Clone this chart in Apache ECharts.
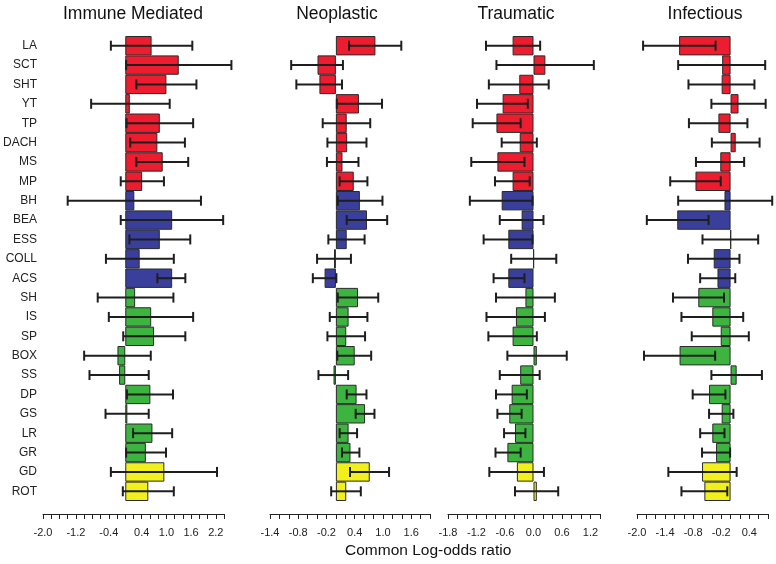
<!DOCTYPE html>
<html><head><meta charset="utf-8">
<script src="https://cdn.jsdelivr.net/npm/echarts@6/dist/echarts.min.js"></script>
<style>html,body{margin:0;padding:0;background:#fff}#c{width:776px;height:564px}</style>
</head><body><div id="c"></div>
<script>
const categories = ['LA','SCT','SHT','YT','TP','DACH','MS','MP','BH','BEA','ESS','COLL','ACS','SH','IS','SP','BOX','SS','DP','GS','LR','GR','GD','ROT'];
const groups = ['A','A','A','A','A','A','A','A','B','B','B','B','B','C','C','C','C','C','C','C','C','C','D','D'];
const panelTitles = ['Immune Mediated','Neoplastic','Traumatic','Infectious'];
const axisTitle = 'Common Log-odds ratio';

const immuneValue = [0.64,1.30,1.00,0.11,0.84,0.78,0.91,0.41,0.22,1.14,0.84,0.35,1.14,0.24,0.63,0.70,-0.19,-0.15,0.61,0.05,0.66,0.50,0.95,0.56];
const immuneLow   = [-0.35,0.02,0.27,-0.83,0.03,0.12,0.27,-0.11,-1.40,-0.11,0.10,-0.47,0.78,-0.67,-0.40,-0.05,-1.00,-0.87,0.04,-0.48,0.19,0.02,-0.35,-0.06];
const immuneHigh  = [1.63,2.58,1.73,1.08,1.65,1.45,1.53,0.94,1.84,2.38,1.58,1.18,1.46,1.17,1.65,1.46,0.62,0.57,1.16,0.57,1.14,0.99,2.23,1.18];

const neoValue = [0.84,-0.39,-0.35,0.49,0.23,0.24,0.14,0.38,0.51,0.66,0.23,-0.04,-0.24,0.47,0.27,0.22,0.40,-0.05,0.44,0.62,0.27,0.31,0.72,0.22];
const neoLow   = [0.28,-0.95,-0.84,0.02,-0.28,-0.18,-0.19,0.08,0.04,0.23,-0.16,-0.40,-0.49,0.04,-0.13,-0.18,0.03,-0.37,0.23,0.42,0.08,0.13,0.30,-0.10];
const neoHigh  = [1.39,0.15,0.13,0.98,0.73,0.65,0.48,0.67,0.99,1.09,0.61,0.32,0.01,0.90,0.67,0.62,0.75,0.26,0.65,0.82,0.45,0.50,1.13,0.53];

const traumaValue = [-0.44,0.25,-0.30,-0.65,-0.78,-0.29,-0.76,-0.44,-0.67,-0.25,-0.53,0.005,-0.53,-0.17,-0.37,-0.44,0.07,-0.28,-0.46,-0.51,-0.39,-0.55,-0.35,0.07];
const traumaLow   = [-1.00,-0.78,-0.94,-1.19,-1.28,-0.67,-1.31,-0.81,-1.34,-0.71,-1.05,-0.47,-0.84,-0.79,-0.99,-0.95,-0.55,-0.71,-0.79,-0.76,-0.62,-0.80,-0.93,-0.39];
const traumaHigh  = [0.14,1.27,0.32,-0.12,-0.27,0.07,-0.19,-0.08,-0.02,0.21,-0.02,0.48,-0.19,0.45,0.24,0.07,0.70,0.13,-0.14,-0.25,-0.17,-0.27,0.22,0.52];

const infValue = [-1.10,-0.18,-0.19,0.17,-0.26,0.11,-0.22,-0.75,-0.13,-1.14,0.005,-0.36,-0.28,-0.69,-0.39,-0.21,-1.09,0.13,-0.46,-0.19,-0.39,-0.31,-0.61,-0.56];
const infLow   = [-1.87,-1.12,-0.90,-0.41,-0.89,-0.40,-0.74,-1.29,-1.12,-1.79,-0.60,-0.91,-0.65,-1.23,-1.05,-0.83,-1.85,-0.41,-0.81,-0.46,-0.65,-0.61,-1.33,-1.05];
const infHigh  = [-0.32,0.74,0.51,0.75,0.36,0.62,0.29,-0.21,0.89,-0.47,0.59,0.19,0.10,-0.14,0.27,0.39,-0.33,0.67,-0.11,0.06,-0.13,-0.01,0.13,-0.07];

const immuneRange = [-2.0, 2.4];
const neoRange = [-1.4, 2.0];
const traumaRange = [-1.8, 1.4];
const infRange = [-2.0, 0.8];
const immuneTickLabels = [-2.0,-1.2,-0.4,0.4,1.0,1.6,2.2];
const neoTickLabels = [-1.4,-0.8,-0.2,0.4,1.0,1.6];
const traumaTickLabels = [-1.8,-1.2,-0.6,0.0,0.6,1.2];
const infTickLabels = [-2.0,-1.4,-0.8,-0.2,0.4];
const tickStep = 0.2;

const groupColor = {A:'#ED1C2E', B:'#3A3F9C', C:'#3DB43F', D:'#F2F01C'};
const FONT = 'Liberation Sans, Arial, Helvetica, sans-serif';

const panels = [
  {v:immuneValue, lo:immuneLow, hi:immuneHigh, range:immuneRange, labels:immuneTickLabels, left:43, right:552, tx:133},
  {v:neoValue, lo:neoLow, hi:neoHigh, range:neoRange, labels:neoTickLabels, left:270, right:346, tx:337},
  {v:traumaValue, lo:traumaLow, hi:traumaHigh, range:traumaRange, labels:traumaTickLabels, left:448, right:176, tx:516},
  {v:infValue, lo:infLow, hi:infHigh, range:infRange, labels:infTickLabels, left:637, right:8, tx:705}
];

const grid = [], xAxis = [], yAxis = [], series = [], title = [];
panels.forEach((p, i) => {
  grid.push({left:p.left, right:p.right, top:36, bottom:63, containLabel:false});
  title.push({text:panelTitles[i], left:p.tx, top:5, padding:0, textAlign:'center',
    textStyle:{fontFamily:FONT, fontSize:17.5, fontWeight:'normal', color:'#111'}});
  const labs = p.labels;
  xAxis.push({type:'value', gridIndex:i, min:p.range[0], max:p.range[1], interval:tickStep,
    offset:13, splitLine:{show:false},
    axisLine:{show:true, onZero:false, lineStyle:{color:'#222', width:1}},
    axisTick:{show:true, length:5, lineStyle:{color:'#222', width:1}},
    axisLabel:{show:true, margin:13, fontFamily:FONT, fontSize:11, color:'#222',
      showMinLabel:true, showMaxLabel:true,
      formatter: function(val){ const r = Math.round(val*10)/10; return labs.some(l => Math.abs(l-r) < 1e-6) ? r.toFixed(1) : ''; }}
  });
  yAxis.push({type:'category', gridIndex:i, data:categories, inverse:true,
    axisLine:{show:false}, axisTick:{show:false}, splitLine:{show:false},
    axisLabel:{show:i===0, margin:6, fontFamily:FONT, fontSize:12, color:'#222'}});
  series.push({type:'bar', xAxisIndex:i, yAxisIndex:i, barCategoryGap:'0%', barGap:'0%',
    data: p.v.map((val, k) => ({value:val, itemStyle:{color:groupColor[groups[k]]}})),
    itemStyle:{borderColor:'#2a2a2a', borderWidth:1}, silent:true, animation:false});
  series.push({type:'custom', xAxisIndex:i, yAxisIndex:i, animation:false, silent:true,
    data: p.lo.map((lo, k) => [lo, p.hi[k], k]),
    encode:{x:[0,1], y:2},
    renderItem: function(params, api){
      const a = api.coord([api.value(0), api.value(2)]);
      const b = api.coord([api.value(1), api.value(2)]);
      const h = 5;
      const st = {stroke:'#1e1e1e', lineWidth:2, fill:null};
      return {type:'group', children:[
        {type:'line', shape:{x1:a[0], y1:a[1], x2:b[0], y2:b[1]}, style:st},
        {type:'line', shape:{x1:a[0], y1:a[1]-h, x2:a[0], y2:a[1]+h}, style:st},
        {type:'line', shape:{x1:b[0], y1:b[1]-h, x2:b[0], y2:b[1]+h}, style:st}
      ]};
    }, z:5});
});

const chart = echarts.init(document.getElementById('c'), null, {renderer:'canvas'});
chart.setOption({
  animation:false, backgroundColor:'#fff', grid, xAxis, yAxis, series, title,
  graphic:[{type:'text', left:345, top:543, style:{text:axisTitle, font:'15.5px ' + FONT, fill:'#111'}}]
});
</script></body></html>
